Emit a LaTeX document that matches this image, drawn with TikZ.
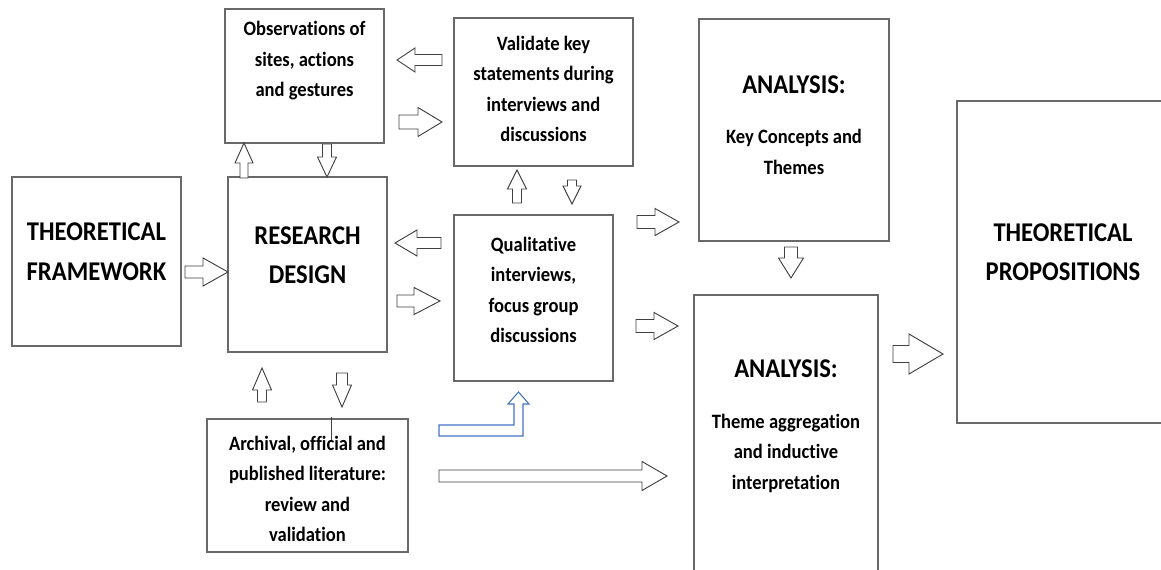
\documentclass[tikz,border=0pt]{standalone}
\usepackage{fontspec}
\setmainfont{Carlito}[FakeStretch=0.91, Ligatures=NoCommon]
\usetikzlibrary{calc}
\definecolor{boxgray}{RGB}{105,105,105}
\definecolor{arrgray}{RGB}{64,64,64}
\definecolor{arrblue}{RGB}{68,114,196}
\tikzset{
  box/.style={draw=boxgray, line width=0.8pt, inner sep=0pt, outer sep=0pt, rectangle},
  blk/.style={draw=arrgray, line width=0.7pt, fill=white, line join=miter},
  small/.style={font=\bfseries\fontsize{15.3}{22.9}\selectfont, align=center, inner sep=0pt},
  big/.style={font=\bfseries\fontsize{20.3}{29.6}\selectfont, align=center, inner sep=0pt}
}
% #1 tail coordinate, #2 angle, #3 length, #4 shaft half width, #5 head half width, #6 head length
\newcommand{\blockarrow}[6]{%
  \begin{scope}[shift={(#1)},rotate=#2]
    \draw[blk] (0,-#4) -- ({#3-#6},-#4) -- ({#3-#6},-#5) -- (#3,0) -- ({#3-#6},#5) -- ({#3-#6},#4) -- (0,#4) -- cycle;
  \end{scope}}
% #1 name, #2 x1, #3 y1, #4 x2, #5 y2
\newcommand{\pxbox}[5]{%
  \node[box, minimum width={(#4-#2)*0.75pt}, minimum height={(#5-#3)*0.75pt}] (#1) at ({(#2+#4)/2},{(#3+#5)/2}) {};}
\begin{document}
\begin{tikzpicture}[x=0.75pt,y=-0.75pt]
  \useasboundingbox (0,0) rectangle (1161,570);
  \clip (0,0) rectangle (1161,570);
  % boxes
  \pxbox{tf}{12}{177}{181}{346}
  \pxbox{rd}{228}{177}{387}{352}
  \pxbox{obs}{225}{9}{384}{143}
  \pxbox{val}{454}{18}{633}{166}
  \pxbox{qual}{454}{215}{613}{381}
  \pxbox{arch}{207}{419}{408}{552}
  \pxbox{aone}{699}{19}{889}{241}
  \pxbox{atwo}{694}{295}{878}{590}
  \pxbox{tp}{957}{101}{1169}{423}
  % texts
  \node[big] (tf-t) at (96.5,251.5) {THEORETICAL\\FRAMEWORK};
  \node[big] (rd-t) at (307.5,255) {RESEARCH\\DESIGN};
  \node[big] (tp-t) at (1063,252) {THEORETICAL\\PROPOSITIONS};
  \node[small] (obs-t) at (304.5,61) {Observations of\\sites, actions\\and gestures};
  \node[small] (val-t) at (543.5,89) {Validate key\\statements during\\interviews and\\discussions};
  \node[small] (qual-t) at (533.5,290) {Qualitative\\interviews,\\focus group\\discussions};
  \node[small] (arch-t) at (307.5,489) {Archival, official and\\published literature:\\review and\\validation};
  \node[big] (aone-h) at (794,85) {ANALYSIS:};
  \node[small] (aone-t) at (794,152) {Key Concepts and\\Themes};
  \node[big] (atwo-h) at (786,369) {ANALYSIS:};
  \node[small] (atwo-t) at (786,453) {Theme aggregation\\and inductive\\interpretation};
  % block arrows
  \blockarrow{$(tf.east)+(4,10.5)$}{0}{43}{6}{14}{25}
  \blockarrow{$(qual.west)+(-13,-55)$}{180}{46}{5.5}{13}{22}
  \blockarrow{$(rd.east)+(10,36.5)$}{0}{43}{6}{13.5}{26}
  \blockarrow{$(val.west)+(-12,-32)$}{180}{45}{5.5}{12}{18}
  \blockarrow{$(obs.east)+(15,46)$}{0}{43}{7}{14.5}{24}
  \blockarrow{$(rd.north)+(-63.5,1)$}{90}{35}{4}{9}{20}
  \blockarrow{$(obs.south)+(22.5,1)$}{-90}{33}{4.5}{9.5}{20}
  \blockarrow{$(qual.north)+(-16.5,-12)$}{90}{33}{4.5}{9.5}{19}
  \blockarrow{$(val.south)+(28.5,14)$}{-90}{24}{4.5}{9}{18}
  \blockarrow{$(arch.north)+(-45.5,-17)$}{90}{34}{4.5}{9.5}{22}
  \blockarrow{$(rd.south)+(34.5,21)$}{-90}{34}{5.5}{9.5}{22}
  \blockarrow{$(qual.east)+(24,-76)$}{0}{42}{6.5}{13.5}{24}
  \blockarrow{$(qual.east)+(23,28)$}{0}{42}{6.5}{13.5}{24}
  \blockarrow{$(aone.south)+(-3,6)$}{-90}{31}{6.5}{12.5}{20}
  \blockarrow{$(tp.west)+(-64,92)$}{0}{50}{8.5}{20}{34}
  \blockarrow{$(arch.east)+(31,-9.5)$}{0}{228}{6}{14.5}{25}
  % blue bent arrow
  \draw[draw=arrblue, line width=0.8pt, line join=miter] ($(qual.south)+(-94.5,55)$) -- ++(0,-11) -- ++(75,0) -- ++(0,-21) -- ++(-6,0) -- ++(10.5,-12) -- ++(10.5,12) -- ++(-6,0) -- ++(0,32) -- cycle;
  % thin stray mark
  \coordinate (mk) at ($(arch.north)+(23.5,-2)$);
  \draw[arrgray, line width=0.6pt] (mk) -- ++(0,23);
\end{tikzpicture}
\end{document}
